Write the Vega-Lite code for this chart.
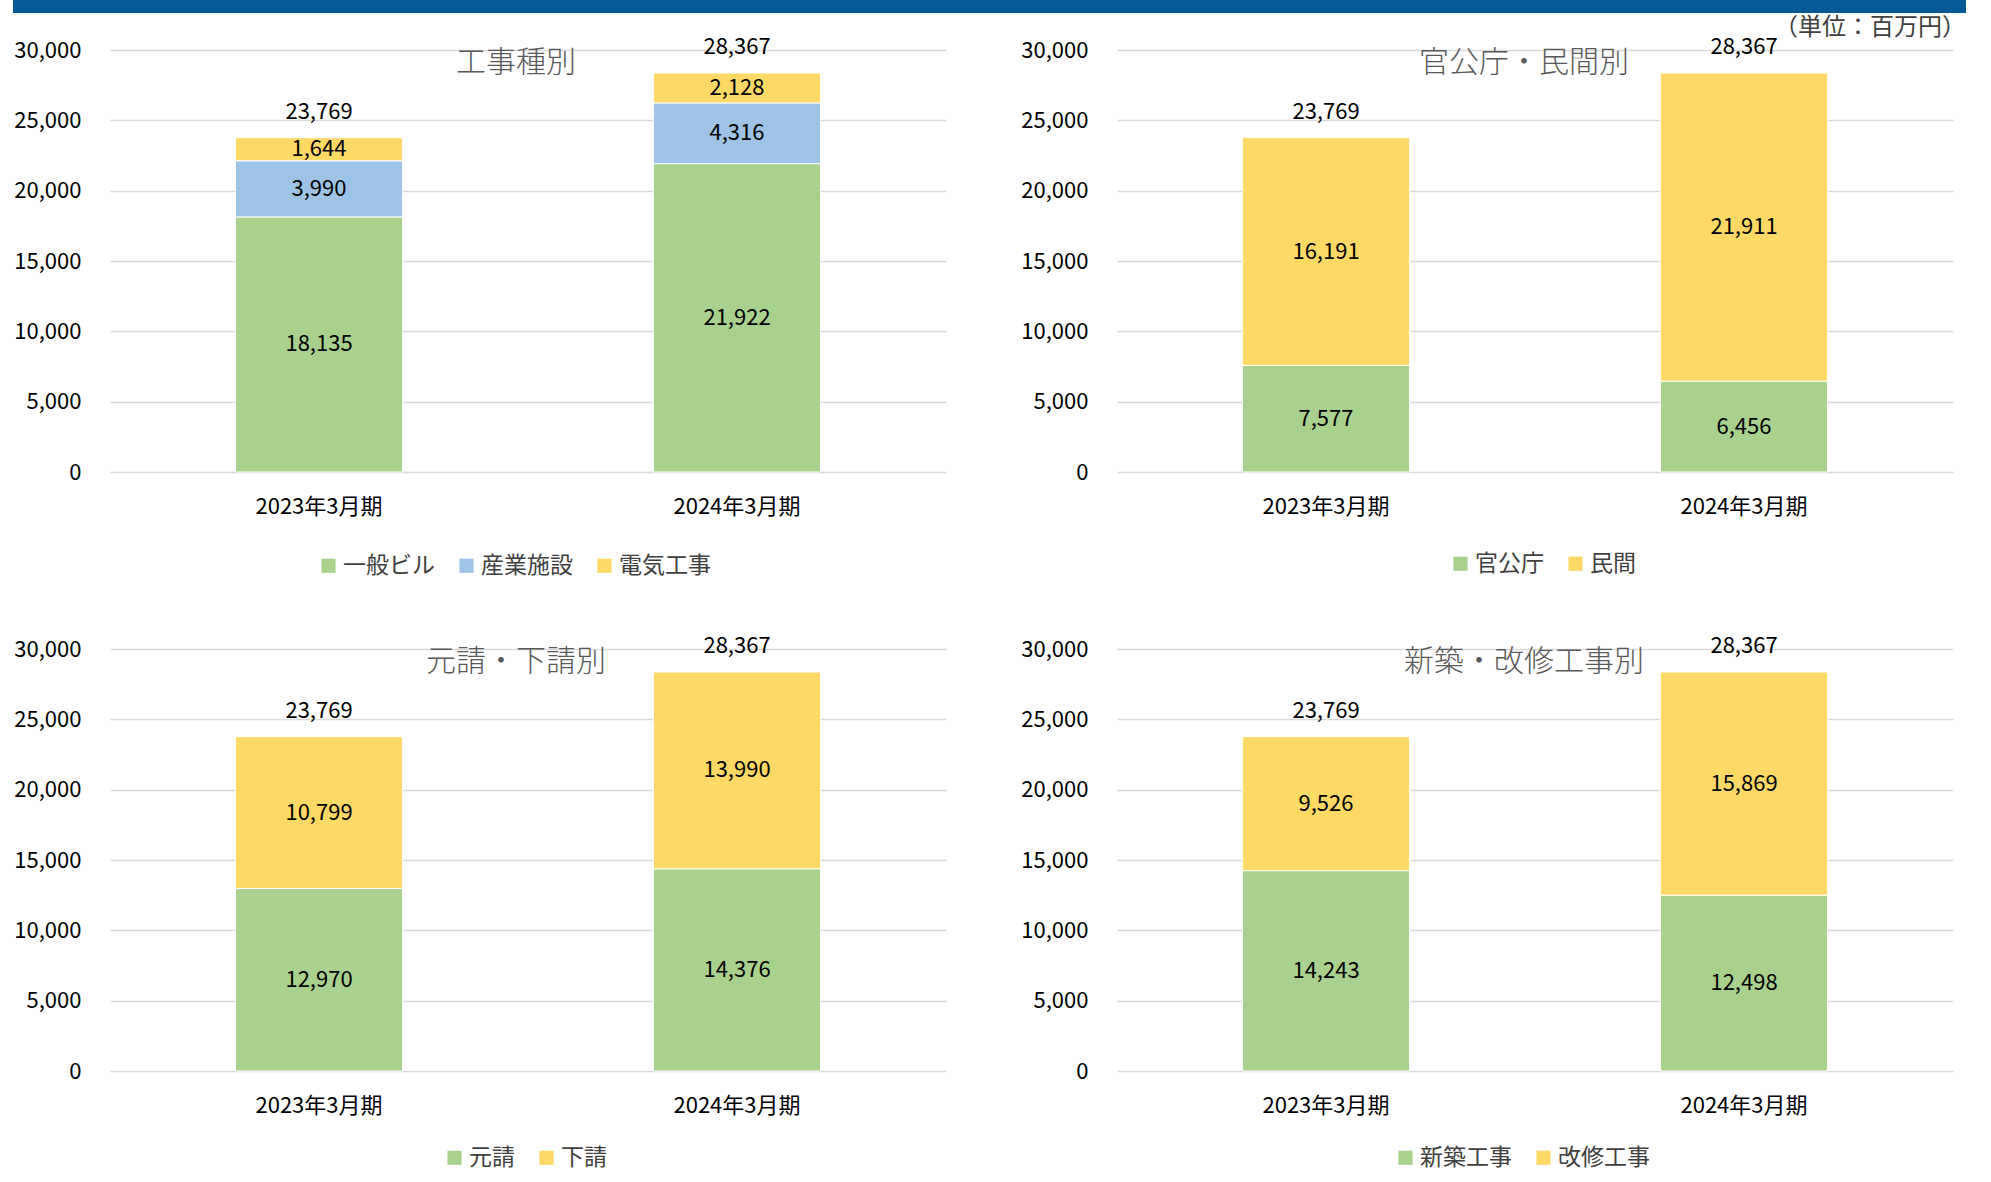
{
  "$schema": "https://vega.github.io/schema/vega-lite/v6.json",
  "background": "white",
  "padding": {"left": 13, "top": 0, "right": 25, "bottom": 0},
  "title": {"text": "（単位：百万円）", "anchor": "end", "frame": "bounds", "offset": -40, "fontSize": 24, "fontWeight": "normal", "font": "Noto Sans CJK JP", "color": "#404040"},
  "datasets": {
    "segs": [
      {"panel": "p1", "period": "2023年3月期", "category": "一般ビル", "order": 1, "value": 18135},
      {"panel": "p1", "period": "2023年3月期", "category": "産業施設", "order": 2, "value": 3990},
      {"panel": "p1", "period": "2023年3月期", "category": "電気工事", "order": 3, "value": 1644},
      {"panel": "p1", "period": "2024年3月期", "category": "一般ビル", "order": 1, "value": 21922},
      {"panel": "p1", "period": "2024年3月期", "category": "産業施設", "order": 2, "value": 4316},
      {"panel": "p1", "period": "2024年3月期", "category": "電気工事", "order": 3, "value": 2128},
      {"panel": "p2", "period": "2023年3月期", "category": "官公庁", "order": 1, "value": 7577},
      {"panel": "p2", "period": "2023年3月期", "category": "民間", "order": 2, "value": 16191},
      {"panel": "p2", "period": "2024年3月期", "category": "官公庁", "order": 1, "value": 6456},
      {"panel": "p2", "period": "2024年3月期", "category": "民間", "order": 2, "value": 21911},
      {"panel": "p3", "period": "2023年3月期", "category": "元請", "order": 1, "value": 12970},
      {"panel": "p3", "period": "2023年3月期", "category": "下請", "order": 2, "value": 10799},
      {"panel": "p3", "period": "2024年3月期", "category": "元請", "order": 1, "value": 14376},
      {"panel": "p3", "period": "2024年3月期", "category": "下請", "order": 2, "value": 13990},
      {"panel": "p4", "period": "2023年3月期", "category": "新築工事", "order": 1, "value": 14243},
      {"panel": "p4", "period": "2023年3月期", "category": "改修工事", "order": 2, "value": 9526},
      {"panel": "p4", "period": "2024年3月期", "category": "新築工事", "order": 1, "value": 12498},
      {"panel": "p4", "period": "2024年3月期", "category": "改修工事", "order": 2, "value": 15869}
    ],
    "totals": [
      {"panel": "p1", "period": "2023年3月期", "total": 23769},
      {"panel": "p1", "period": "2024年3月期", "total": 28367},
      {"panel": "p2", "period": "2023年3月期", "total": 23769},
      {"panel": "p2", "period": "2024年3月期", "total": 28367},
      {"panel": "p3", "period": "2023年3月期", "total": 23769},
      {"panel": "p3", "period": "2024年3月期", "total": 28367},
      {"panel": "p4", "period": "2023年3月期", "total": 23769},
      {"panel": "p4", "period": "2024年3月期", "total": 28367}
    ]
  },
  "columns": 1,
  "align": "none",
  "spacing": 22,
  "concat": [
    {
      "width": 1856,
      "height": 13,
      "data": {"values": [{}]},
      "mark": {"type": "rect", "color": "#045A94"},
      "encoding": {"x": {"value": -97}, "x2": {"value": "width"}, "y": {"value": 0}, "y2": {"value": "height"}}
    },
    {
      "columns": 2,
      "spacing": {"row": 56, "column": 74},
      "resolve": {"scale": {"color": "independent", "x": "independent", "y": "independent"}, "legend": {"color": "independent"}},
      "concat": [
        {
          "width": 836, "height": 422,
          "title": {"text": "工事種別", "offset": -42, "dx": -12},
          "layer": [
            {
              "data": {"name": "segs"},
              "transform": [{"filter": "datum.panel === 'p1'"}],
              "mark": {"type": "bar", "stroke": "white", "strokeWidth": 1},
              "encoding": {
                "x": {"field": "period", "type": "nominal", "scale": {"paddingInner": 0.6, "paddingOuter": 0.3}},
                "y": {"field": "value", "type": "quantitative", "stack": "zero", "scale": {"domain": [0, 30000]}, "axis": {"values": [0, 5000, 10000, 15000, 20000, 25000, 30000], "labelExpr": "format(datum.value, ',')"}},
                "color": {"field": "category", "type": "nominal", "scale": {"domain": ["一般ビル", "産業施設", "電気工事"], "range": ["#A9D18E", "#9DC3E6", "#FFD966"]}, "legend": {"orient": "none", "legendX": 207, "legendY": 504}},
                "order": {"field": "order"}
              }
            },
            {
              "data": {"name": "segs"},
              "transform": [{"filter": "datum.panel === 'p1'"}, {"stack": "value", "groupby": ["period"], "sort": [{"field": "order", "order": "ascending"}], "as": ["v0", "v1"]}, {"calculate": "(datum.v0 + datum.v1) / 2", "as": "mid"}],
              "mark": {"type": "text", "fontSize": 22, "color": "#000000"},
              "encoding": {
                "x": {"field": "period", "type": "nominal"},
                "y": {"field": "mid", "type": "quantitative", "axis": {"values": [0, 5000, 10000, 15000, 20000, 25000, 30000], "labelExpr": "format(datum.value, ',')"}},
                "text": {"field": "value", "type": "quantitative", "format": ","}
              }
            },
            {
              "data": {"name": "totals"},
              "transform": [{"filter": "datum.panel === 'p1'"}],
              "mark": {"type": "text", "fontSize": 22, "color": "#000000", "dy": -26},
              "encoding": {
                "x": {"field": "period", "type": "nominal"},
                "y": {"field": "total", "type": "quantitative", "axis": {"values": [0, 5000, 10000, 15000, 20000, 25000, 30000], "labelExpr": "format(datum.value, ',')"}},
                "text": {"field": "total", "type": "quantitative", "format": ","}
              }
            }
          ]
        },
        {
          "width": 836, "height": 422,
          "title": {"text": "官公庁・民間別", "offset": -42, "dx": -11},
          "layer": [
            {
              "data": {"name": "segs"},
              "transform": [{"filter": "datum.panel === 'p2'"}],
              "mark": {"type": "bar", "stroke": "white", "strokeWidth": 1},
              "encoding": {
                "x": {"field": "period", "type": "nominal", "scale": {"paddingInner": 0.6, "paddingOuter": 0.3}},
                "y": {"field": "value", "type": "quantitative", "stack": "zero", "scale": {"domain": [0, 30000]}, "axis": {"values": [0, 5000, 10000, 15000, 20000, 25000, 30000], "labelExpr": "format(datum.value, ',')"}},
                "color": {"field": "category", "type": "nominal", "scale": {"domain": ["官公庁", "民間"], "range": ["#A9D18E", "#FFD966"]}, "legend": {"orient": "none", "legendX": 332, "legendY": 502}},
                "order": {"field": "order"}
              }
            },
            {
              "data": {"name": "segs"},
              "transform": [{"filter": "datum.panel === 'p2'"}, {"stack": "value", "groupby": ["period"], "sort": [{"field": "order", "order": "ascending"}], "as": ["v0", "v1"]}, {"calculate": "(datum.v0 + datum.v1) / 2", "as": "mid"}],
              "mark": {"type": "text", "fontSize": 22, "color": "#000000"},
              "encoding": {
                "x": {"field": "period", "type": "nominal"},
                "y": {"field": "mid", "type": "quantitative", "axis": {"values": [0, 5000, 10000, 15000, 20000, 25000, 30000], "labelExpr": "format(datum.value, ',')"}},
                "text": {"field": "value", "type": "quantitative", "format": ","}
              }
            },
            {
              "data": {"name": "totals"},
              "transform": [{"filter": "datum.panel === 'p2'"}],
              "mark": {"type": "text", "fontSize": 22, "color": "#000000", "dy": -26},
              "encoding": {
                "x": {"field": "period", "type": "nominal"},
                "y": {"field": "total", "type": "quantitative", "axis": {"values": [0, 5000, 10000, 15000, 20000, 25000, 30000], "labelExpr": "format(datum.value, ',')"}},
                "text": {"field": "total", "type": "quantitative", "format": ","}
              }
            }
          ]
        },
        {
          "width": 836, "height": 422,
          "title": {"text": "元請・下請別", "offset": -42, "dx": -12},
          "layer": [
            {
              "data": {"name": "segs"},
              "transform": [{"filter": "datum.panel === 'p3'"}],
              "mark": {"type": "bar", "stroke": "white", "strokeWidth": 1},
              "encoding": {
                "x": {"field": "period", "type": "nominal", "scale": {"paddingInner": 0.6, "paddingOuter": 0.3}},
                "y": {"field": "value", "type": "quantitative", "stack": "zero", "scale": {"domain": [0, 30000]}, "axis": {"values": [0, 5000, 10000, 15000, 20000, 25000, 30000], "labelExpr": "format(datum.value, ',')"}},
                "color": {"field": "category", "type": "nominal", "scale": {"domain": ["元請", "下請"], "range": ["#A9D18E", "#FFD966"]}, "legend": {"orient": "none", "legendX": 333, "legendY": 497}},
                "order": {"field": "order"}
              }
            },
            {
              "data": {"name": "segs"},
              "transform": [{"filter": "datum.panel === 'p3'"}, {"stack": "value", "groupby": ["period"], "sort": [{"field": "order", "order": "ascending"}], "as": ["v0", "v1"]}, {"calculate": "(datum.v0 + datum.v1) / 2", "as": "mid"}],
              "mark": {"type": "text", "fontSize": 22, "color": "#000000"},
              "encoding": {
                "x": {"field": "period", "type": "nominal"},
                "y": {"field": "mid", "type": "quantitative", "axis": {"values": [0, 5000, 10000, 15000, 20000, 25000, 30000], "labelExpr": "format(datum.value, ',')"}},
                "text": {"field": "value", "type": "quantitative", "format": ","}
              }
            },
            {
              "data": {"name": "totals"},
              "transform": [{"filter": "datum.panel === 'p3'"}],
              "mark": {"type": "text", "fontSize": 22, "color": "#000000", "dy": -26},
              "encoding": {
                "x": {"field": "period", "type": "nominal"},
                "y": {"field": "total", "type": "quantitative", "axis": {"values": [0, 5000, 10000, 15000, 20000, 25000, 30000], "labelExpr": "format(datum.value, ',')"}},
                "text": {"field": "total", "type": "quantitative", "format": ","}
              }
            }
          ]
        },
        {
          "width": 836, "height": 422,
          "title": {"text": "新築・改修工事別", "offset": -42, "dx": -11},
          "layer": [
            {
              "data": {"name": "segs"},
              "transform": [{"filter": "datum.panel === 'p4'"}],
              "mark": {"type": "bar", "stroke": "white", "strokeWidth": 1},
              "encoding": {
                "x": {"field": "period", "type": "nominal", "scale": {"paddingInner": 0.6, "paddingOuter": 0.3}},
                "y": {"field": "value", "type": "quantitative", "stack": "zero", "scale": {"domain": [0, 30000]}, "axis": {"values": [0, 5000, 10000, 15000, 20000, 25000, 30000], "labelExpr": "format(datum.value, ',')"}},
                "color": {"field": "category", "type": "nominal", "scale": {"domain": ["新築工事", "改修工事"], "range": ["#A9D18E", "#FFD966"]}, "legend": {"orient": "none", "legendX": 277, "legendY": 497}},
                "order": {"field": "order"}
              }
            },
            {
              "data": {"name": "segs"},
              "transform": [{"filter": "datum.panel === 'p4'"}, {"stack": "value", "groupby": ["period"], "sort": [{"field": "order", "order": "ascending"}], "as": ["v0", "v1"]}, {"calculate": "(datum.v0 + datum.v1) / 2", "as": "mid"}],
              "mark": {"type": "text", "fontSize": 22, "color": "#000000"},
              "encoding": {
                "x": {"field": "period", "type": "nominal"},
                "y": {"field": "mid", "type": "quantitative", "axis": {"values": [0, 5000, 10000, 15000, 20000, 25000, 30000], "labelExpr": "format(datum.value, ',')"}},
                "text": {"field": "value", "type": "quantitative", "format": ","}
              }
            },
            {
              "data": {"name": "totals"},
              "transform": [{"filter": "datum.panel === 'p4'"}],
              "mark": {"type": "text", "fontSize": 22, "color": "#000000", "dy": -26},
              "encoding": {
                "x": {"field": "period", "type": "nominal"},
                "y": {"field": "total", "type": "quantitative", "axis": {"values": [0, 5000, 10000, 15000, 20000, 25000, 30000], "labelExpr": "format(datum.value, ',')"}},
                "text": {"field": "total", "type": "quantitative", "format": ","}
              }
            }
          ]
        }
      ]
    }
  ],
  "config": {
    "font": "Liberation Sans Narrow, Noto Sans CJK JP, sans-serif",
    "view": {"stroke": null},
    "title": {"anchor": "middle", "frame": "group", "fontSize": 30, "fontWeight": 300, "font": "Noto Sans CJK JP", "color": "#595959"},
    "text": {"font": "Liberation Sans Narrow, Noto Sans CJK JP, sans-serif"},
    "axisX": {"title": null, "labelAngle": 0, "ticks": false, "domain": false, "grid": false, "labelPadding": 24, "labelFontSize": 22, "labelColor": "#000000", "labelFont": "Liberation Sans Narrow, Noto Sans CJK JP, sans-serif"},
    "axisY": {"title": null, "ticks": false, "domain": false, "grid": true, "gridColor": "#D9D9D9", "gridWidth": 1.5, "labelPadding": 29, "labelFontSize": 22, "labelColor": "#000000", "labelFont": "Liberation Sans Narrow, Noto Sans CJK JP, sans-serif"},
    "legend": {"direction": "horizontal", "title": null, "symbolType": "square", "symbolSize": 200, "symbolStrokeWidth": 0, "labelFontSize": 23, "labelColor": "#404040", "labelFont": "Noto Sans CJK JP", "columnPadding": 20, "labelOffset": 3}
  }
}
